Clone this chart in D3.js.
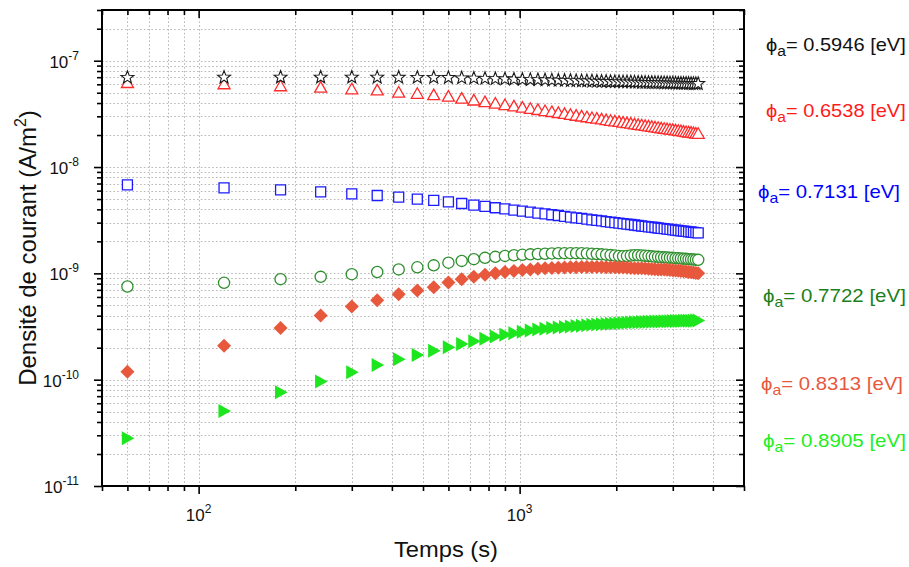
<!DOCTYPE html>
<html><head><meta charset="utf-8">
<script src="https://cdn.jsdelivr.net/npm/d3@7"></script>
<style>body{margin:0;background:#fff}svg{display:block}text{font-family:Arial,"Liberation Sans",sans-serif}</style>
</head><body>
<svg id="c" width="909" height="567"></svg>
<script>
// ---------- data ----------
const times = [60,120,180,240,300,360,420,480,540,600,660,720,780,840,900,960,1020,1080,1140,1200,
  1260,1320,1380,1440,1500,1560,1620,1680,1740,1800,1860,1920,1980,2040,2100,2160,2220,2280,2340,2400,
  2460,2520,2580,2640,2700,2760,2820,2880,2940,3000,3060,3120,3180,3240,3300,3360,3420,3480,3540,3600];

const phiLabels = ["0.5946","0.6538","0.7131","0.7722","0.8313","0.8905"];
const seriesUnit = [1e-8, 1e-8, 1e-9, 1e-10, 1e-10, 1e-11];

const jStar = [6.95,6.97,6.98,6.98,6.98,6.97,6.96,6.95,6.94,6.93,
  6.88,6.84,6.80,6.76,6.73,6.69,6.66,6.64,6.61,6.59,
  6.56,6.54,6.52,6.50,6.48,6.46,6.45,6.43,6.41,6.39,
  6.38,6.36,6.35,6.34,6.32,6.31,6.30,6.28,6.27,6.26,
  6.25,6.24,6.23,6.22,6.21,6.20,6.19,6.18,6.17,6.16,
  6.15,6.14,6.13,6.12,6.12,6.11,6.10,6.09,6.09,6.08];
const jTri = [6.28,6.11,5.85,5.67,5.48,5.35,5.10,4.97,4.82,4.67,
  4.47,4.30,4.15,4.02,3.89,3.78,3.68,3.59,3.50,3.42,
  3.35,3.28,3.21,3.15,3.09,3.04,2.99,2.94,2.90,2.85,
  2.81,2.77,2.73,2.70,2.66,2.63,2.60,2.56,2.53,2.51,
  2.48,2.45,2.43,2.40,2.38,2.35,2.33,2.31,2.29,2.27,
  2.25,2.23,2.21,2.19,2.17,2.15,2.14,2.12,2.10,2.09];
const jSquare = [6.80,6.38,6.10,5.85,5.60,5.40,5.21,5.00,4.85,4.70,
  4.54,4.39,4.26,4.14,4.04,3.94,3.85,3.77,3.69,3.62,
  3.56,3.50,3.44,3.38,3.33,3.29,3.24,3.19,3.15,3.11,
  3.07,3.04,3.00,2.97,2.94,2.91,2.88,2.85,2.82,2.79,
  2.77,2.74,2.72,2.70,2.67,2.65,2.63,2.61,2.59,2.57,
  2.55,2.53,2.51,2.50,2.48,2.46,2.45,2.43,2.42,2.40];
const jCircle = [7.52,8.15,8.82,9.27,9.82,10.3,10.9,11.4,11.9,12.6,
  13.1,13.6,14.0,14.3,14.6,14.8,14.95,15.1,15.2,15.3,
  15.4,15.45,15.5,15.5,15.5,15.45,15.4,15.3,15.2,15.1,
  15.0,14.85,14.7,14.6,14.5,14.55,14.7,14.8,14.8,14.75,
  14.65,14.55,14.45,14.35,14.3,14.2,14.15,14.1,14.05,14.0,
  13.9,13.85,13.8,13.75,13.7,13.6,13.55,13.5,13.45,13.4];
const jDiamond = [1.19,2.08,3.07,4.01,4.87,5.60,6.37,6.89,7.41,8.2,
  8.8,9.3,9.7,10.0,10.3,10.55,10.75,10.9,11.05,11.15,
  11.25,11.3,11.35,11.4,11.4,11.45,11.45,11.45,11.45,11.45,
  11.4,11.4,11.4,11.35,11.35,11.3,11.25,11.2,11.2,11.15,
  11.1,11.05,11.0,10.95,10.9,10.85,10.85,10.8,10.75,10.7,
  10.65,10.6,10.5,10.45,10.4,10.3,10.25,10.2,10.1,10.0];
const jRightTri = [2.81,5.08,7.62,9.6,11.75,13.77,15.56,17.1,18.7,20.2,
  21.6,23.0,24.3,25.5,26.5,27.4,28.3,29.0,29.6,30.1,
  30.6,31.0,31.3,31.6,31.9,32.2,32.5,32.8,33.0,33.2,
  33.4,33.6,33.8,34.0,34.15,34.3,34.45,34.6,34.7,34.8,
  34.9,35.0,35.1,35.2,35.3,35.35,35.4,35.45,35.5,35.55,
  35.6,35.65,35.7,35.75,35.8,35.85,35.9,35.9,35.95,36.0];

const xDomain = [50, 5000];
const yDomain = [1e-11, 3e-7];
const xMajorTicks = [100, 1000];
const xMajorExp = ["2", "3"];
const yMajorTicks = [1e-11, 1e-10, 1e-9, 1e-8, 1e-7];
const yMajorExp = ["-11", "-10", "-9", "-8", "-7"];
const xTitle = "Temps (s)";
const yTitle = "Densité de courant (A/m";

// ---------- layout ----------
const svg = d3.select("#c");
const L = 102, R = 744, T = 10, B = 486;
const x = d3.scaleLog().domain(xDomain).range([L, R]);
const y = d3.scaleLog().domain(yDomain).range([B, T]);
const xAll = x.ticks();
const yAll = y.ticks();
const xMinor = xAll.filter(v => !xMajorTicks.includes(v));
const yMinor = yAll.filter(v => !yMajorTicks.some(m => Math.abs(m - v) / m < 1e-6));

// grid
const grid = svg.append("g").attr("stroke", "#b8b8b8").attr("stroke-width", 1).attr("stroke-dasharray", "1.6,2.2");
grid.selectAll(".gx").data(xAll.filter(v => v > xDomain[0] && v < xDomain[1])).join("line")
  .attr("x1", d => Math.round(x(d)) + 0.5).attr("x2", d => Math.round(x(d)) + 0.5).attr("y1", T).attr("y2", B);
grid.selectAll(".gy").data(yAll.filter(v => v > yDomain[0] * 1.0001 && v < yDomain[1] * 0.9999)).join("line")
  .attr("y1", d => Math.round(y(d)) + 0.5).attr("y2", d => Math.round(y(d)) + 0.5).attr("x1", L).attr("x2", R);

// axes ticks
function ticks(axisFn, scale, vals, size, tr) {
  const g = svg.append("g").attr("transform", tr)
    .call(axisFn(scale).tickValues(vals).tickSize(size).tickFormat(""));
  g.select(".domain").remove();
  g.selectAll("line").attr("stroke", "#000").attr("stroke-width", 1.6);
  return g;
}
ticks(d3.axisBottom, x, xMinor, 5, `translate(0,${B})`);
ticks(d3.axisBottom, x, xMajorTicks, 8, `translate(0,${B})`);
ticks(d3.axisTop, x, xMinor, -5, `translate(0,${T})`);
ticks(d3.axisTop, x, xMajorTicks, -8, `translate(0,${T})`);
ticks(d3.axisLeft, y, yMinor, 5, `translate(${L},0)`);
ticks(d3.axisLeft, y, yMajorTicks, 8, `translate(${L},0)`);
ticks(d3.axisRight, y, yMinor, -5, `translate(${R},0)`);
ticks(d3.axisRight, y, yMajorTicks, -8, `translate(${R},0)`);

// frame
svg.append("rect").attr("x", L).attr("y", T).attr("width", R - L).attr("height", B - T)
  .attr("fill", "none").attr("stroke", "#000").attr("stroke-width", 2);

// tick labels
const xl = svg.append("g").selectAll("text").data(xMajorTicks).join("text")
  .attr("x", d => x(d)).attr("y", 521).attr("text-anchor", "middle")
  .attr("font-size", 17).attr("fill", "#111");
xl.append("tspan").text("10");
xl.append("tspan").attr("dy", -8).attr("font-size", 12).text((d, i) => xMajorExp[i]);

const yl = svg.append("g").selectAll("text").data(yMajorTicks).join("text")
  .attr("x", 79).attr("y", d => y(d) + 7).attr("text-anchor", "end")
  .attr("font-size", 17).attr("fill", "#111");
yl.append("tspan").text("10");
yl.append("tspan").attr("dy", -8).attr("font-size", 12).text((d, i) => yMajorExp[i]);

// axis titles
const xtG = svg.append("g");
const xt = xtG.append("text").attr("x", 0).attr("y", 0)
  .attr("font-size", 22).attr("fill", "#111").text(xTitle);
const xtw = xt.node().getComputedTextLength();
xtG.attr("transform", `translate(394,557) scale(${104 / xtw},1)`);

const yt = svg.append("text").attr("transform", `translate(36,${(T + B) / 2}) rotate(-90)`)
  .attr("text-anchor", "middle").attr("font-size", 24).attr("fill", "#111");
yt.append("tspan").text(yTitle);
yt.append("tspan").attr("dy", -10).attr("font-size", 16).text("2");
yt.append("tspan").attr("dy", 10).text(")");

// ---------- symbols ----------
const symStar = { draw(c, s) { const ro = s, ri = s * 0.42;
  for (let i = 0; i < 10; i++) { const r = i % 2 ? ri : ro; const a = -Math.PI / 2 + i * Math.PI / 5;
    const px = r * Math.cos(a), py = r * Math.sin(a); i ? c.lineTo(px, py) : c.moveTo(px, py); } c.closePath(); } };
const symTriUp = { draw(c, s) { const h = s * 0.88; c.moveTo(0, -h); c.lineTo(s, h); c.lineTo(-s, h); c.closePath(); } };
const symSquare = { draw(c, s) { c.rect(-s, -s, 2 * s, 2 * s); } };
const symCircle = { draw(c, s) { c.moveTo(s, 0); c.arc(0, 0, s, 0, 2 * Math.PI); } };
const symDiamond = { draw(c, s) { c.moveTo(0, -s); c.lineTo(s, 0); c.lineTo(0, s); c.lineTo(-s, 0); c.closePath(); } };
const symTriRight = { draw(c, s) { c.moveTo(s, 0); c.lineTo(-s * 0.8, -s); c.lineTo(-s * 0.8, s); c.closePath(); } };

const series = [
  { vals: jSquare, u: seriesUnit[2], sym: symSquare, size: 5, stroke: "#1c1cff", fill: "#fff", sw: 1.3 },
  { vals: jCircle, u: seriesUnit[3], sym: symCircle, size: 5.6, stroke: "#2f8f2f", fill: "#fff", sw: 1.3 },
  { vals: jDiamond, u: seriesUnit[4], sym: symDiamond, size: 7, stroke: "none", fill: "#e8583c", sw: 0 },
  { vals: jRightTri, u: seriesUnit[5], sym: symTriRight, size: 7, stroke: "none", fill: "#1ee61e", sw: 0 },
  { vals: jTri, u: seriesUnit[1], sym: symTriUp, size: 6, stroke: "#ff2a2a", fill: "#fff", sw: 1.3 },
  { vals: jStar, u: seriesUnit[0], sym: symStar, size: 6.8, stroke: "#1a1a1a", fill: "#fff", sw: 1.1 },
];
const plot = svg.append("g");
series.forEach(s => {
  const path = d3.symbol().type(s.sym).size(s.size)();
  plot.append("g").selectAll("path").data(times).join("path")
    .attr("d", path)
    .attr("transform", (t, i) => `translate(${x(t)},${y(s.vals[i] * s.u)})`)
    .attr("fill", s.fill).attr("stroke", s.stroke).attr("stroke-width", s.sw);
});

// ---------- legend labels ----------
const legendColors = ["#111111", "#ff1a1a", "#0000ff", "#1a801a", "#e8583c", "#22ee22"];
const legendX = [766, 766, 758, 763, 761, 763];
const legendRight = [906, 906, 900, 906, 903, 906];
const legendY = [51, 117, 198, 302, 390, 447];
phiLabels.forEach((p, i) => {
  const g = svg.append("g");
  const t = g.append("text").attr("x", 0).attr("y", 0)
    .attr("font-size", 18).attr("fill", legendColors[i]);
  t.append("tspan").text("ϕ");
  t.append("tspan").attr("dy", 5).attr("font-size", 14).text("a");
  t.append("tspan").attr("dy", -5).text("= " + p + " [eV]");
  const w = t.node().getBBox().width;
  g.attr("transform", `translate(${legendX[i]},${legendY[i]}) scale(${(legendRight[i] - legendX[i]) / w},1)`);
});
</script>
</body></html>
